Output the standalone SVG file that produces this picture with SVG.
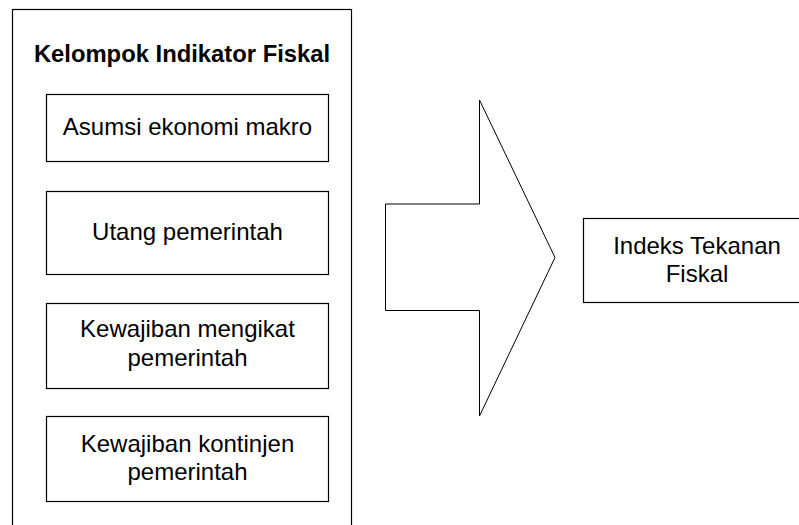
<svg xmlns="http://www.w3.org/2000/svg" width="799" height="525" viewBox="0 0 799 525">
<style>
.box{fill:#fff;stroke:#000;stroke-width:1.2}
.t{font-family:"Liberation Sans",Arial,sans-serif;font-size:24px;fill:#000;text-anchor:middle}
.b{font-weight:bold;font-size:23.8px}
</style>
<rect width="799" height="525" fill="#fff"/>
<g id="group-outer">
<rect class="box" x="12.5" y="9.5" width="339" height="540"/>
<text class="t b" x="182" y="62">Kelompok Indikator Fiskal</text>
</g>
<g id="node-asumsi">
<rect class="box" x="46.5" y="94.5" width="282" height="67"/>
<text class="t" x="187.5" y="135">Asumsi ekonomi makro</text>
</g>
<g id="node-utang">
<rect class="box" x="46.5" y="191.5" width="282" height="83"/>
<text class="t" x="187.5" y="240">Utang pemerintah</text>
</g>
<g id="node-mengikat">
<rect class="box" x="46.5" y="303.5" width="282" height="85"/>
<text class="t" x="187.5" y="337">Kewajiban mengikat</text>
<text class="t" x="187.5" y="365.5">pemerintah</text>
</g>
<g id="node-kontinjen">
<rect class="box" x="46.5" y="416.5" width="282" height="85"/>
<text class="t" x="187.5" y="451.5">Kewajiban kontinjen</text>
<text class="t" x="187.5" y="480">pemerintah</text>
</g>
<g id="connectors">
<polygon points="385.5,204 479.5,204 479.5,100 555,257.5 479.5,416 479.5,310.5 385.5,310.5" fill="#fff" stroke="#000" stroke-width="1"/>
</g>
<g id="node-indeks">
<rect class="box" x="583.5" y="218.5" width="227" height="84"/>
<text class="t" x="697" y="254">Indeks Tekanan</text>
<text class="t" x="697" y="281.5">Fiskal</text>
</g>
</svg>
